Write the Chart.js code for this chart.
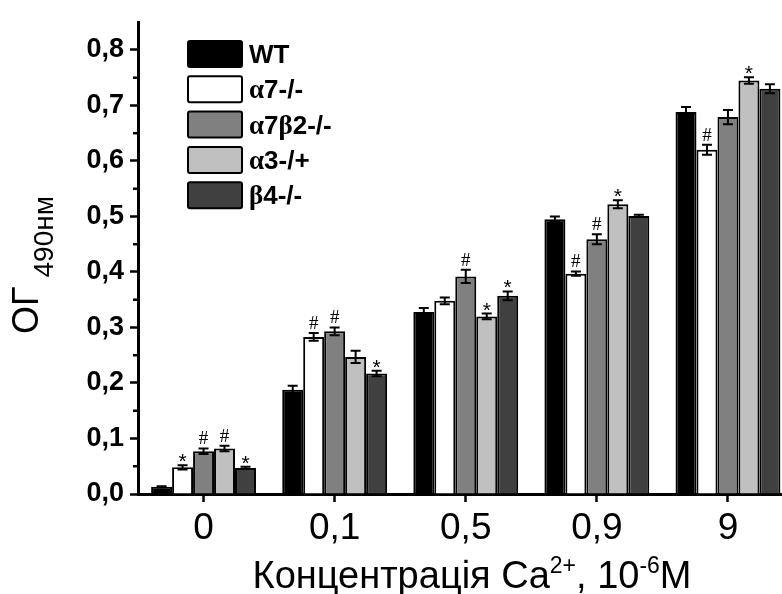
<!DOCTYPE html>
<html>
<head>
<meta charset="utf-8">
<script src="https://cdn.jsdelivr.net/npm/chart.js@4.4.1/dist/chart.umd.min.js"></script>
<style>
    html, body { margin: 0; padding: 0; background: #fff; overflow: hidden; }
    canvas { display: block; }
</style>
</head>
<body>
<canvas id="myChart" width="796" height="594"></canvas>
<script>
const categories = ["0", "0,1", "0,5", "0,9", "9"];

// optical density means and errors per genotype
const wt = [0.013, 0.188, 0.328, 0.495, 0.688];
const wtErr = [0.001, 0.007, 0.007, 0.005, 0.009];
const a7 = [0.048, 0.283, 0.348, 0.397, 0.620];
const a7Err = [0.004, 0.007, 0.006, 0.004, 0.009];
const a7b2 = [0.077, 0.293, 0.392, 0.459, 0.679];
const a7b2Err = [0.005, 0.007, 0.012, 0.009, 0.013];
const a3 = [0.082, 0.247, 0.320, 0.522, 0.745];
const a3Err = [0.005, 0.011, 0.005, 0.007, 0.006];
const b4 = [0.047, 0.217, 0.357, 0.501, 0.730];
const b4Err = [0.002, 0.005, 0.008, 0.002, 0.008];

// significance marks above the bars
const wtMarks = ["", "", "", "", ""];
const a7Marks = ["*", "#", "", "#", "#"];
const a7b2Marks = ["#", "#", "#", "#", ""];
const a3Marks = ["#", "", "*", "*", "*"];
const b4Marks = ["*", "*", "*", "", ""];

const yTicks = [0, 0.1, 0.2, 0.3, 0.4, 0.5, 0.6, 0.7, 0.8];

const SANS = '"Liberation Sans", Arial, sans-serif';
const SERIF = '"Liberation Serif", "Times New Roman", serif';

function series(label, data, err, marks, color) {
    return {
        label,
        data,
        err,
        marks,
        backgroundColor: color,
        borderColor: "#000",
        borderWidth: 2,
        borderSkipped: "bottom",
    };
}

const errorBars = {
    id: "errorBars",
    afterDatasetsDraw(chart) {
        const ctx = chart.ctx;
        const y = chart.scales.y;
        ctx.save();
        ctx.strokeStyle = "#000";
        ctx.fillStyle = "#000";
        ctx.lineWidth = 2;
        chart.data.datasets.forEach((ds, i) => {
            chart.getDatasetMeta(i).data.forEach((bar, j) => {
                const v = ds.data[j];
                const e = ds.err[j];
                const top = y.getPixelForValue(v + e);
                const bot = y.getPixelForValue(v - e);
                const x = bar.x;
                ctx.beginPath();
                ctx.moveTo(x, top);
                ctx.lineTo(x, bot);
                ctx.moveTo(x - 5, top);
                ctx.lineTo(x + 5, top);
                ctx.moveTo(x - 5, bot);
                ctx.lineTo(x + 5, bot);
                ctx.stroke();
                const m = ds.marks[j];
                ctx.textAlign = "center";
                ctx.textBaseline = "alphabetic";
                if (m === "*") {
                    ctx.font = "21px " + SANS;
                    ctx.fillText("*", x, top + 3);
                } else if (m === "#") {
                    ctx.font = "19px " + SERIF;
                    ctx.fillText("#", x, top - 4);
                }
            });
        });
        ctx.restore();
    },
};

const minorTicks = {
    id: "minorTicks",
    afterDraw(chart) {
        const ctx = chart.ctx;
        const y = chart.scales.y;
        const left = chart.chartArea.left;
        ctx.save();
        ctx.strokeStyle = "#000";
        ctx.lineWidth = 2.5;
        for (let k = 0; k < yTicks.length - 1; k++) {
            const py = y.getPixelForValue((yTicks[k] + yTicks[k + 1]) / 2);
            ctx.beginPath();
            ctx.moveTo(left - 5, py);
            ctx.lineTo(left, py);
            ctx.stroke();
        }
        ctx.restore();
    },
};

function drawRuns(ctx, runs, x, y) {
    runs.forEach((r) => {
        ctx.font = r.font;
        ctx.fillText(r.text, x, y + (r.dy || 0));
        x += ctx.measureText(r.text).width;
    });
    return x;
}

function runsWidth(ctx, runs) {
    let w = 0;
    runs.forEach((r) => {
        ctx.font = r.font;
        w += ctx.measureText(r.text).width;
    });
    return w;
}

const legendBoxes = {
    id: "legendBoxes",
    afterDraw(chart) {
        const ctx = chart.ctx;
        const bold = "bold 26px " + SANS;
        const greek = "bold 27px " + SERIF;
        ctx.save();
        ctx.textAlign = "left";
        ctx.textBaseline = "alphabetic";
        chart.data.datasets.forEach((ds, i) => {
            const top = 41 + i * 35.3;
            ctx.fillStyle = ds.backgroundColor;
            ctx.strokeStyle = "#000";
            ctx.lineWidth = 2;
            ctx.beginPath();
            ctx.roundRect(188, top, 54, 26, 2);
            ctx.fill();
            ctx.stroke();
            ctx.fillStyle = "#000";
            const runs = [];
            for (const ch of ds.label) {
                const f = "αβ".includes(ch) ? greek : bold;
                if (runs.length && runs[runs.length - 1].font === f) {
                    runs[runs.length - 1].text += ch;
                } else {
                    runs.push({ text: ch, font: f });
                }
            }
            drawRuns(ctx, runs, 249, top + 22);
        });
        ctx.restore();
    },
};

const axisTitles = {
    id: "axisTitles",
    afterDraw(chart) {
        const ctx = chart.ctx;
        ctx.save();
        ctx.fillStyle = "#000";
        ctx.textAlign = "left";
        ctx.textBaseline = "alphabetic";

        // x title with superscripts
        const big = "38px " + SANS;
        const sup = "23px " + SANS;
        const xRuns = [
            { text: "Концентрація Ca", font: big },
            { text: "2+", font: sup, dy: -15 },
            { text: ", 10", font: big },
            { text: "-6", font: sup, dy: -15 },
            { text: "M", font: big },
        ];
        const w = runsWidth(ctx, xRuns);
        drawRuns(ctx, xRuns, 472 - w / 2, 588);

        // rotated y title with subscript
        ctx.translate(38, 334);
        ctx.rotate(-Math.PI / 2);
        ctx.font = "36px " + SANS;
        ctx.fillText("ОГ", 0, 0);
        const mw = ctx.measureText("ОГ").width;
        ctx.font = "28px " + SANS;
        ctx.fillText("490нм", mw + 9, 15);
        ctx.restore();
    },
};

const ctx = document.getElementById("myChart");
const chart = new Chart(ctx, {
    type: "bar",
    data: {
        labels: categories,
        datasets: [
            series("WT", wt, wtErr, wtMarks, "#000000"),
            series("α7-/-", a7, a7Err, a7Marks, "#ffffff"),
            series("α7β2-/-", a7b2, a7b2Err, a7b2Marks, "#808080"),
            series("α3-/+", a3, a3Err, a3Marks, "#c0c0c0"),
            series("β4-/-", b4, b4Err, b4Marks, "#404040"),
        ],
    },
    options: {
        responsive: false,
        animation: false,
        layout: { padding: { top: 15, right: 2.5, left: 0, bottom: 0 } },
        datasets: { bar: { categoryPercentage: 0.8, barPercentage: 1.0 } },
        plugins: {
            legend: { display: false },
            tooltip: { enabled: false },
        },
        scales: {
            x: {
                z: 1,
                offset: true,
                grid: {
                    offset: false,
                    drawOnChartArea: false,
                    tickLength: 8,
                    tickWidth: 2.5,
                    tickColor: "#000",
                },
                border: { color: "#000", width: 3 },
                ticks: {
                    color: "#000",
                    font: { family: SANS, size: 37 },
                    padding: 5,
                },
                afterFit: (s) => {
                    s.height = 100;
                },
            },
            y: {
                min: 0,
                max: 0.85,
                grid: {
                    drawOnChartArea: false,
                    tickLength: 8,
                    tickWidth: 2.5,
                    tickColor: "#000",
                },
                border: { color: "#000", width: 3 },
                ticks: {
                    stepSize: 0.1,
                    color: "#000",
                    font: { family: SANS, size: 27, weight: "bold" },
                    padding: 6,
                    callback: (v) => v.toFixed(1).replace(".", ","),
                },
                afterBuildTicks: (s) => {
                    s.ticks = yTicks.map((v) => ({ value: v }));
                },
                afterFit: (s) => {
                    s.width = 138;
                },
            },
        },
    },
    plugins: [errorBars, minorTicks, legendBoxes, axisTitles],
});
</script>
</body>
</html>
